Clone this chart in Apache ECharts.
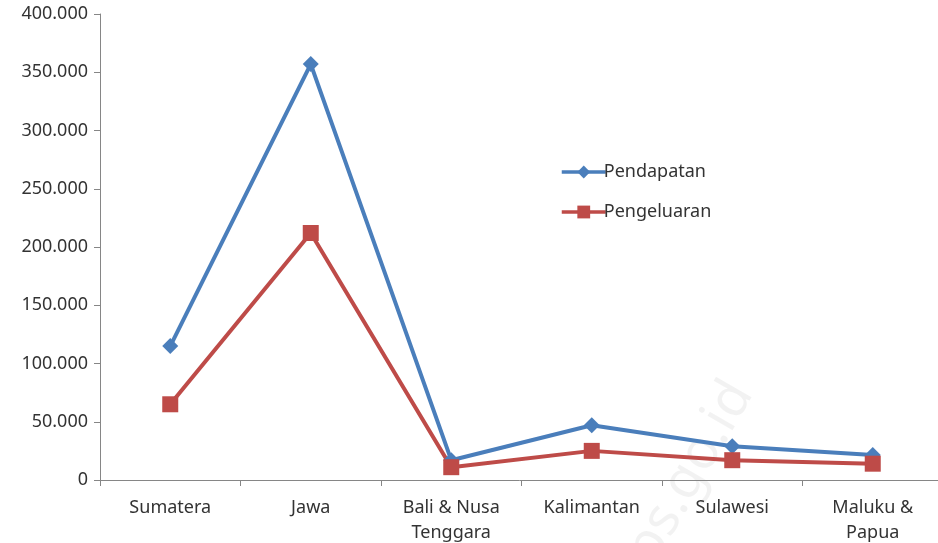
<!DOCTYPE html>
<html>
<head>
<meta charset="utf-8">
<script src="https://cdn.jsdelivr.net/npm/echarts@6/dist/echarts.min.js"></script>
<style>
  html, body { margin: 0; padding: 0; background: #ffffff; }
  #chart { width: 938px; height: 543px; }
</style>
</head>
<body>
<div id="chart"></div>
<script>
// Regions of Indonesia
const regions = ['Sumatera', 'Jawa', 'Bali & Nusa\nTenggara', 'Kalimantan', 'Sulawesi', 'Maluku &\nPapua'];
// Income and expenditure per region
const pendapatan = [115000, 357000, 17000, 47000, 29000, 21500];
const pengeluaran = [65000, 212000, 11000, 25000, 17000, 14000];
// Value axis range
const yMin = 0;
const yMax = 400000;
const yStep = 50000;

const FONT = '"Noto Sans", "Open Sans", sans-serif';
const TEXT = '#333333';
const BLUE = '#4a7ebb';
const RED = '#be4b48';
const AXIS = '#868686';

// Indonesian thousand separator (dot)
function fmt(v) {
  return String(v).replace(/\B(?=(\d{3})+(?!\d))/g, '.');
}

const chart = echarts.init(document.getElementById('chart'), null, { renderer: 'canvas' });
chart.setOption({
  animation: false,
  backgroundColor: '#ffffff',
  grid: { left: 100, right: -5, top: 14, bottom: 63, containLabel: false, outerBoundsMode: 'none' },
  legend: {
    orient: 'vertical',
    left: 555,
    top: 157,
    itemGap: 20,
    itemWidth: 44,
    itemHeight: 16,
    lineStyle: { width: 3.5 },
    textStyle: { fontFamily: FONT, fontSize: 18, lineHeight: 20, color: TEXT, padding: [0, 0, 0, -7] },
    data: ['Pendapatan', 'Pengeluaran']
  },
  xAxis: {
    type: 'category',
    data: regions,
    boundaryGap: true,
    axisLine: { lineStyle: { color: AXIS, width: 1 } },
    axisTick: { show: true, length: 6, alignWithLabel: false, lineStyle: { color: AXIS } },
    axisLabel: {
      fontFamily: FONT, fontSize: 18, color: TEXT, margin: 15, lineHeight: 25, interval: 0
    },
    splitLine: { show: false }
  },
  yAxis: {
    type: 'value',
    min: yMin,
    max: yMax,
    interval: yStep,
    axisLine: { show: true, lineStyle: { color: AXIS, width: 1 } },
    axisTick: { show: true, length: 6, inside: false, lineStyle: { color: AXIS } },
    axisLabel: {
      fontFamily: FONT, fontSize: 18, color: TEXT, margin: 12, formatter: fmt
    },
    splitLine: { show: false }
  },
  series: [
    {
      name: 'Pendapatan',
      type: 'line',
      data: pendapatan,
      symbol: 'diamond',
      symbolSize: 16,
      color: BLUE,
      lineStyle: { width: 4, color: BLUE },
      itemStyle: { color: BLUE }
    },
    {
      name: 'Pengeluaran',
      type: 'line',
      data: pengeluaran,
      symbol: 'rect',
      symbolSize: 16,
      color: RED,
      lineStyle: { width: 4, color: RED },
      itemStyle: { color: RED }
    }
  ],
  graphic: [
    {
      type: 'text',
      x: 600,
      y: 575,
      rotation: Math.PI / 3,
      z: -1,
      style: {
        text: 'bps.go.id',
        fontFamily: FONT,
        fontSize: 54,
        fill: 'rgba(0,0,0,0.05)'
      }
    }
  ]
});
</script>
</body>
</html>
